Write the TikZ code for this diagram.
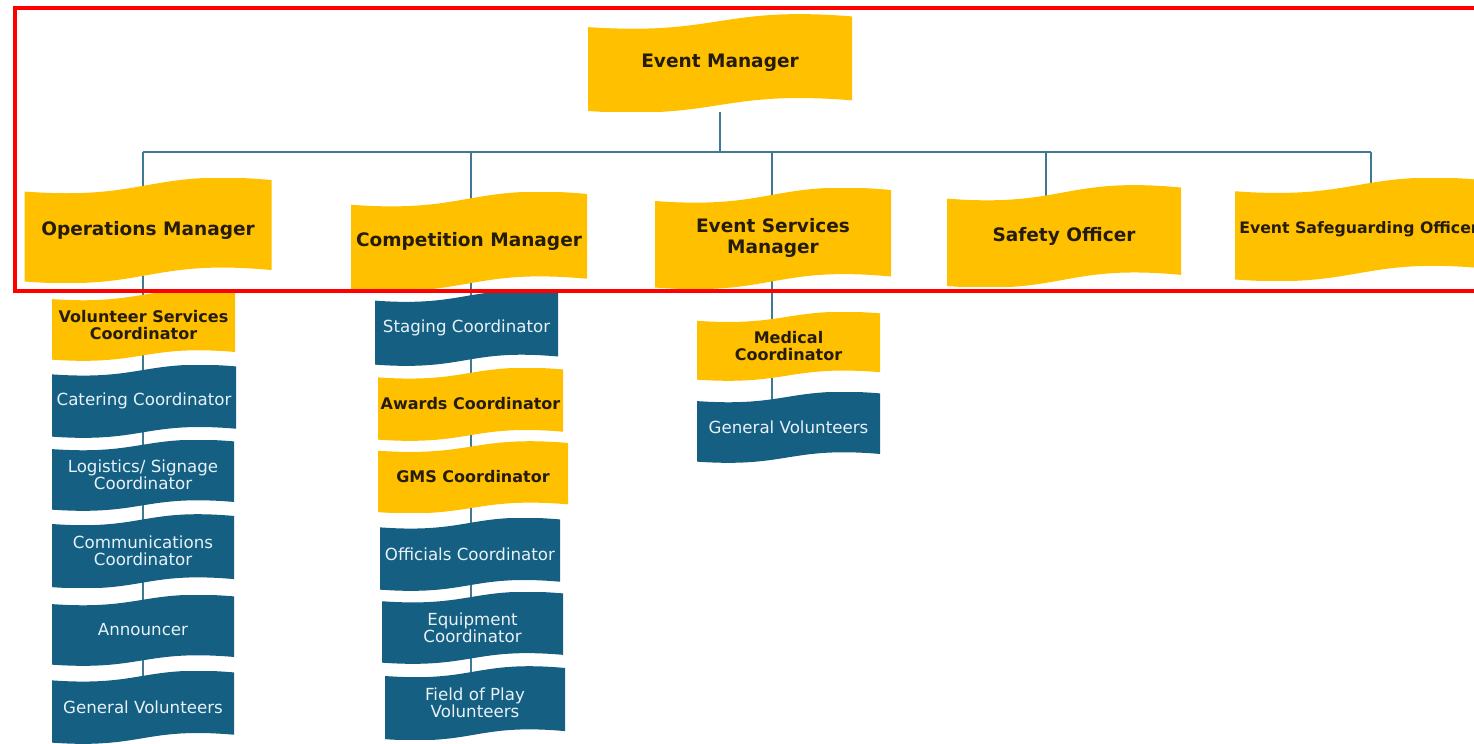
\documentclass[tikz,border=0pt]{standalone}
\usepackage{fontspec}
\usepackage{tikz}
\usetikzlibrary{calc,backgrounds}
\newfontfamily\orgfont{DejaVu Sans}
\definecolor{goldfill}{RGB}{255,192,0}
\definecolor{tealfill}{RGB}{21,96,130}
\definecolor{linkblue}{RGB}{64,121,148}
\definecolor{ink}{RGB}{38,28,10}
\definecolor{paper}{RGB}{232,241,248}
\tikzset{
  wave/.style={inner sep=0pt, align=center, path picture={
    \fill[#1] ($(path picture bounding box.north west)!.13!(path picture bounding box.south west)$)
      .. controls ($(path picture bounding box.north)!.22!(path picture bounding box.south)$)
      and ($(path picture bounding box.north)!-.09!(path picture bounding box.south)$)
      .. ($(path picture bounding box.north east)!.02!(path picture bounding box.south east)$)
      -- ($(path picture bounding box.south east)!.115!(path picture bounding box.north east)$)
      .. controls ($(path picture bounding box.south)!.225!(path picture bounding box.north)$)
      and ($(path picture bounding box.south)!-.085!(path picture bounding box.north)$)
      .. ($(path picture bounding box.south west)!.005!(path picture bounding box.north west)$) -- cycle;}},
  headbox/.style 2 args={wave=goldfill, text=ink, font=\orgfont\bfseries\fontsize{13.9}{15.8}\selectfont,
    minimum width=#1*0.75pt, minimum height=#2*0.75pt},
  goldbox/.style 2 args={wave=goldfill, text=ink, font=\orgfont\bfseries\fontsize{12}{12.8}\selectfont,
    minimum width=#1*0.75pt, minimum height=#2*0.75pt},
  tealbox/.style 2 args={wave=tealfill, text=paper, font=\orgfont\fontsize{12.5}{12.8}\selectfont,
    minimum width=#1*0.75pt, minimum height=#2*0.75pt},
  link/.style={draw=linkblue, line width=2pt},
}
\begin{document}
\begin{tikzpicture}[x=0.75pt,y=-0.75pt]
\useasboundingbox (0,0) rectangle (1474,743);
% Top level
\node[headbox={264}{97}] (em) at (720,63) {Event Manager};
\node[headbox={247}{104}] (ops) at (148,230) {Operations Manager};
\node[headbox={236}{98}] (comp) at (469,241) {Competition Manager};
\node[headbox={236}{100}] (esm) at (773,238) {Event Services\\Manager};
\node[headbox={234}{101}] (safety) at (1064,236) {Safety Officer};
\node[headbox={248}{102}, font=\orgfont\bfseries\fontsize{11.8}{14}\selectfont] (safeg) at (1359,229) {Event Safeguarding Officer};
% Operations column
\node[goldbox={183}{70}] (vsc) at (143.5,325) {Volunteer Services\\Coordinator};
\node[tealbox={184}{72}] (cater) at (144,401) {Catering Coordinator};
\node[tealbox={182}{70}] (logis) at (143,475) {Logistics/ Signage\\Coordinator};
\node[tealbox={182}{73}] (comms) at (143,551) {Communications\\Coordinator};
\node[tealbox={182}{70}] (announ) at (143,630) {Announcer};
\node[tealbox={182}{72}] (genva) at (143,707) {General Volunteers};
% Competition column
\node[tealbox={183}{74}] (staging) at (466.5,328) {Staging Coordinator};
\node[goldbox={185}{72}] (awards) at (470.5,404) {Awards Coordinator};
\node[goldbox={190}{71}] (gms) at (473,477) {GMS Coordinator};
\node[tealbox={180}{72}] (officials) at (470,554) {Officials Coordinator};
\node[tealbox={181}{71}] (equip) at (472.5,627.5) {Equipment\\Coordinator};
\node[tealbox={180}{73}] (field) at (475,703) {Field of Play\\Volunteers};
% Event services column
\node[goldbox={183}{68}] (medical) at (788.5,346) {Medical\\Coordinator};
\node[tealbox={183}{70}] (genvb) at (788.5,427) {General Volunteers};
% Bus drops
\foreach \n/\x in {opsd/143, compd/471, esmd/772, safed/1046, sgd/1371}
  \coordinate (\n) at (\x,152);
\begin{pgfonlayer}{background}
\draw[link] (opsd) -- (sgd);
\draw[link] (em) -- (em |- opsd);
\draw[link] (opsd) -- (opsd |- genva);
\draw[link] (compd) -- (compd |- field);
\draw[link] (esmd) -- (esmd |- genvb);
\draw[link] (safed) -- (safed |- safety);
\draw[link] (sgd) -- (sgd |- safeg);
\end{pgfonlayer}
% Highlight frame
\draw[red, line width=3.6pt] (15,8) rectangle (1500,291);
\end{tikzpicture}
\end{document}
